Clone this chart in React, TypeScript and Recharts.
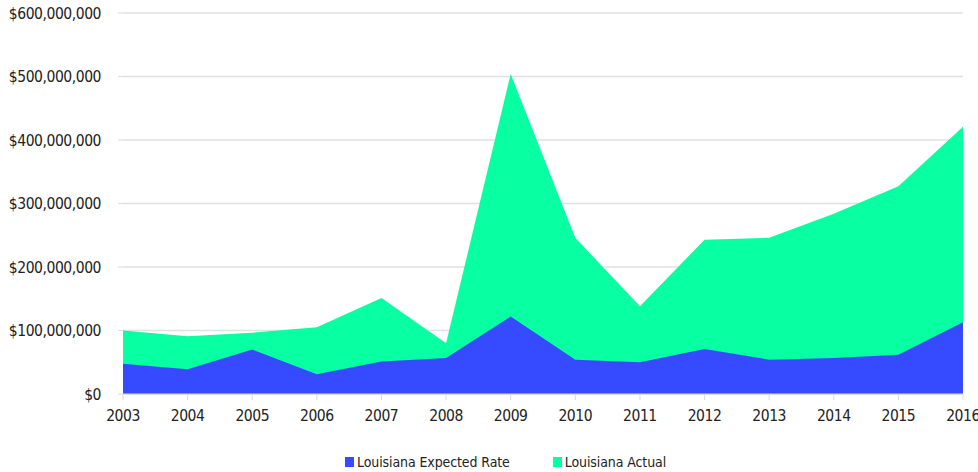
import React from "react";
import { AreaChart, Area, XAxis, YAxis, CartesianGrid, Legend } from "recharts";

const years = ["2003", "2004", "2005", "2006", "2007", "2008", "2009", "2010", "2011", "2012", "2013", "2014", "2015", "2016"];
const expectedRate = [47.6, 39, 70, 31, 51, 56.5, 122, 54, 50, 70.7, 54, 56.5, 62, 113];
const actual = [100, 91, 96.5, 105, 151, 80, 504, 246, 138, 243, 246, 284, 327, 421];
const yTicks = [0, 100000000, 200000000, 300000000, 400000000, 500000000, 600000000];

const data = years.map((y, i) => ({
  year: y,
  expected: expectedRate[i] * 1000000,
  actual: actual[i] * 1000000,
}));

const BLUE = "#364BFF";
const GREEN = "#08FFA2";
const FONT = "'DejaVu Sans Condensed', 'DejaVu Sans', sans-serif";

const fmt = (v: number) => "$" + v.toLocaleString("en-US");

const legendItems = [
  { name: "Louisiana Expected Rate", color: BLUE },
  { name: "Louisiana Actual", color: GREEN },
];

const LegendContent = () => (
  <div style={{ height: 48, boxSizing: "border-box", paddingTop: 28, paddingLeft: 345, display: "flex", alignItems: "center", fontFamily: FONT, fontStretch: "condensed", fontSize: 14, letterSpacing: -0.1, color: "#222", lineHeight: "16px" }}>
    {legendItems.map((it, i) => (
      <div key={it.name} style={{ display: "flex", alignItems: "center", marginRight: i === 0 ? 43 : 0 }}>
        <span style={{ display: "inline-block", width: 9, height: 10, background: it.color, marginRight: 3 }} />
        <span>{it.name}</span>
      </div>
    ))}
  </div>
);

const tickStyle = { fill: "#222", fontSize: 15.5, fontFamily: FONT, fontStretch: "condensed", letterSpacing: -0.45 };

export default function App() {
  return (
    <div style={{ position: "absolute", left: 0, top: 0, width: 978, height: 472, background: "#fff" }}>
      <AreaChart width={978} height={472} data={data} margin={{ top: 13, right: 15, left: 0, bottom: 0 }}>
        <CartesianGrid vertical={false} stroke="#e0e0e0" strokeWidth={1.5} />
        <XAxis
          dataKey="year"
          interval={0}
          height={30}
          stroke="#dcdcdc"
          tickSize={6}
          tickMargin={10}
          tick={tickStyle}
        />
        <YAxis
          width={123}
          domain={[0, 600000000]}
          ticks={yTicks}
          axisLine={false}
          tickLine={{ stroke: "#dcdcdc" }}
          tickSize={5}
          tickMargin={17}
          tickFormatter={fmt}
          tick={tickStyle}
        />
        <Legend verticalAlign="bottom" content={<LegendContent />} />
        <Area type="linear" dataKey="actual" name="Louisiana Actual" stroke="none" fill={GREEN} fillOpacity={1} isAnimationActive={false} />
        <Area type="linear" dataKey="expected" name="Louisiana Expected Rate" stroke="none" fill={BLUE} fillOpacity={1} isAnimationActive={false} />
      </AreaChart>
    </div>
  );
}
